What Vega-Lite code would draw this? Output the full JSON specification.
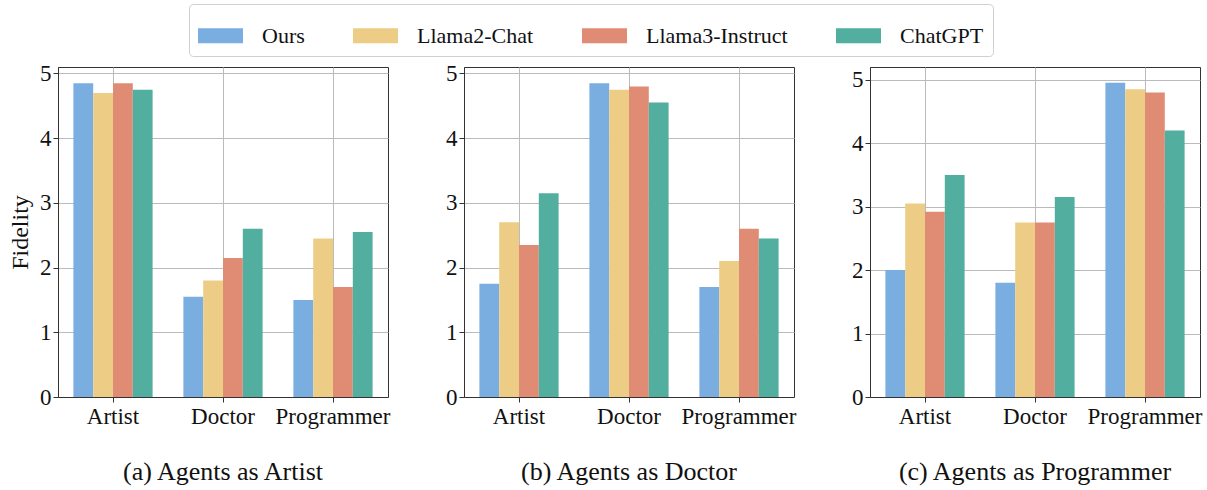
{
  "$schema": "https://vega.github.io/schema/vega-lite/v6.json",
  "background": "white",
  "padding": {"left": 8, "top": 3, "right": 5, "bottom": 2},
  "datasets": {
    "a": [
      {"role": "Artist", "model": "Ours", "score": 4.85},
      {"role": "Artist", "model": "Llama2-Chat", "score": 4.7},
      {"role": "Artist", "model": "Llama3-Instruct", "score": 4.85},
      {"role": "Artist", "model": "ChatGPT", "score": 4.75},
      {"role": "Doctor", "model": "Ours", "score": 1.55},
      {"role": "Doctor", "model": "Llama2-Chat", "score": 1.8},
      {"role": "Doctor", "model": "Llama3-Instruct", "score": 2.15},
      {"role": "Doctor", "model": "ChatGPT", "score": 2.6},
      {"role": "Programmer", "model": "Ours", "score": 1.5},
      {"role": "Programmer", "model": "Llama2-Chat", "score": 2.45},
      {"role": "Programmer", "model": "Llama3-Instruct", "score": 1.7},
      {"role": "Programmer", "model": "ChatGPT", "score": 2.55}
    ],
    "b": [
      {"role": "Artist", "model": "Ours", "score": 1.75},
      {"role": "Artist", "model": "Llama2-Chat", "score": 2.7},
      {"role": "Artist", "model": "Llama3-Instruct", "score": 2.35},
      {"role": "Artist", "model": "ChatGPT", "score": 3.15},
      {"role": "Doctor", "model": "Ours", "score": 4.85},
      {"role": "Doctor", "model": "Llama2-Chat", "score": 4.75},
      {"role": "Doctor", "model": "Llama3-Instruct", "score": 4.8},
      {"role": "Doctor", "model": "ChatGPT", "score": 4.55},
      {"role": "Programmer", "model": "Ours", "score": 1.7},
      {"role": "Programmer", "model": "Llama2-Chat", "score": 2.1},
      {"role": "Programmer", "model": "Llama3-Instruct", "score": 2.6},
      {"role": "Programmer", "model": "ChatGPT", "score": 2.45}
    ],
    "c": [
      {"role": "Artist", "model": "Ours", "score": 2.0},
      {"role": "Artist", "model": "Llama2-Chat", "score": 3.05},
      {"role": "Artist", "model": "Llama3-Instruct", "score": 2.92},
      {"role": "Artist", "model": "ChatGPT", "score": 3.5},
      {"role": "Doctor", "model": "Ours", "score": 1.8},
      {"role": "Doctor", "model": "Llama2-Chat", "score": 2.75},
      {"role": "Doctor", "model": "Llama3-Instruct", "score": 2.75},
      {"role": "Doctor", "model": "ChatGPT", "score": 3.15},
      {"role": "Programmer", "model": "Ours", "score": 4.95},
      {"role": "Programmer", "model": "Llama2-Chat", "score": 4.85},
      {"role": "Programmer", "model": "Llama3-Instruct", "score": 4.8},
      {"role": "Programmer", "model": "ChatGPT", "score": 4.2}
    ]
  },
  "spacing": 54,
  "hconcat": [
    {
      "width": 330, "height": 330,
      "data": {"name": "a"},
      "title": {"text": "(a) Agents as Artist"},
      "mark": {"type": "bar"},
      "encoding": {
        "x": {"field": "role", "type": "nominal", "sort": ["Artist", "Doctor", "Programmer"], "scale": {"paddingInner": 0.28, "paddingOuter": 0.14}, "axis": {"title": null, "labelAngle": 0}},
        "xOffset": {"field": "model", "type": "nominal", "sort": ["Ours", "Llama2-Chat", "Llama3-Instruct", "ChatGPT"], "scale": {"paddingInner": 0, "paddingOuter": 0}},
        "y": {"field": "score", "type": "quantitative", "scale": {"domain": [0, 5.1], "nice": false}, "axis": {"title": "Fidelity", "values": [0, 1, 2, 3, 4, 5]}},
        "color": {"field": "model", "type": "nominal", "sort": ["Ours", "Llama2-Chat", "Llama3-Instruct", "ChatGPT"], "scale": {"domain": ["Ours", "Llama2-Chat", "Llama3-Instruct", "ChatGPT"], "range": ["#7aade0", "#edcd85", "#e08c74", "#52ae9f"]}}
      }
    },
    {
      "width": 330, "height": 330,
      "data": {"name": "b"},
      "title": {"text": "(b) Agents as Doctor"},
      "mark": {"type": "bar"},
      "encoding": {
        "x": {"field": "role", "type": "nominal", "sort": ["Artist", "Doctor", "Programmer"], "scale": {"paddingInner": 0.28, "paddingOuter": 0.14}, "axis": {"title": null, "labelAngle": 0}},
        "xOffset": {"field": "model", "type": "nominal", "sort": ["Ours", "Llama2-Chat", "Llama3-Instruct", "ChatGPT"], "scale": {"paddingInner": 0, "paddingOuter": 0}},
        "y": {"field": "score", "type": "quantitative", "scale": {"domain": [0, 5.1], "nice": false}, "axis": {"title": null, "values": [0, 1, 2, 3, 4, 5]}},
        "color": {"field": "model", "type": "nominal", "sort": ["Ours", "Llama2-Chat", "Llama3-Instruct", "ChatGPT"], "scale": {"domain": ["Ours", "Llama2-Chat", "Llama3-Instruct", "ChatGPT"], "range": ["#7aade0", "#edcd85", "#e08c74", "#52ae9f"]}}
      }
    },
    {
      "width": 330, "height": 330,
      "data": {"name": "c"},
      "title": {"text": "(c) Agents as Programmer"},
      "mark": {"type": "bar"},
      "encoding": {
        "x": {"field": "role", "type": "nominal", "sort": ["Artist", "Doctor", "Programmer"], "scale": {"paddingInner": 0.28, "paddingOuter": 0.14}, "axis": {"title": null, "labelAngle": 0}},
        "xOffset": {"field": "model", "type": "nominal", "sort": ["Ours", "Llama2-Chat", "Llama3-Instruct", "ChatGPT"], "scale": {"paddingInner": 0, "paddingOuter": 0}},
        "y": {"field": "score", "type": "quantitative", "scale": {"domain": [0, 5.2], "nice": false}, "axis": {"title": null, "values": [0, 1, 2, 3, 4, 5]}},
        "color": {"field": "model", "type": "nominal", "sort": ["Ours", "Llama2-Chat", "Llama3-Instruct", "ChatGPT"], "scale": {"domain": ["Ours", "Llama2-Chat", "Llama3-Instruct", "ChatGPT"], "range": ["#7aade0", "#edcd85", "#e08c74", "#52ae9f"]}}
      }
    }
  ],
  "resolve": {"scale": {"color": "shared"}},
  "config": {
    "font": "Liberation Serif",
    "view": {"stroke": "#333333", "strokeWidth": 1},
    "axis": {
      "zindex": 1,
      "labelFont": "Liberation Serif",
      "labelFontSize": 23,
      "labelColor": "#111111",
      "titleFont": "Liberation Serif",
      "titleFontSize": 24,
      "titleFontWeight": "normal",
      "titleColor": "#111111",
      "titlePadding": 7,
      "domainColor": "#333333",
      "tickColor": "#333333",
      "tickSize": 5,
      "labelPadding": 2,
      "gridColor": "#bbbbbb",
      "gridWidth": 1
    },
    "axisX": {"grid": true, "labelPadding": 3, "labelFontSize": 23},
    "title": {"orient": "bottom", "offset": 31, "fontSize": 26, "font": "Liberation Serif", "fontWeight": "normal", "anchor": "middle", "color": "#111111"},
    "legend": {
      "orient": "none",
      "legendX": 131,
      "legendY": -63,
      "direction": "horizontal",
      "title": null,
      "symbolType": "M-1,-0.33L1,-0.33L1,0.33L-1,0.33Z",
      "symbolSize": 2025,
      "symbolStrokeWidth": 0,
      "symbolOpacity": 1,
      "labelFont": "Liberation Serif",
      "labelFontSize": 22,
      "labelColor": "#111111",
      "labelOffset": 19,
      "columnPadding": 48,
      "strokeColor": "#d0d0d0",
      "fillColor": "white",
      "cornerRadius": 4,
      "padding": 9
    }
  }
}
